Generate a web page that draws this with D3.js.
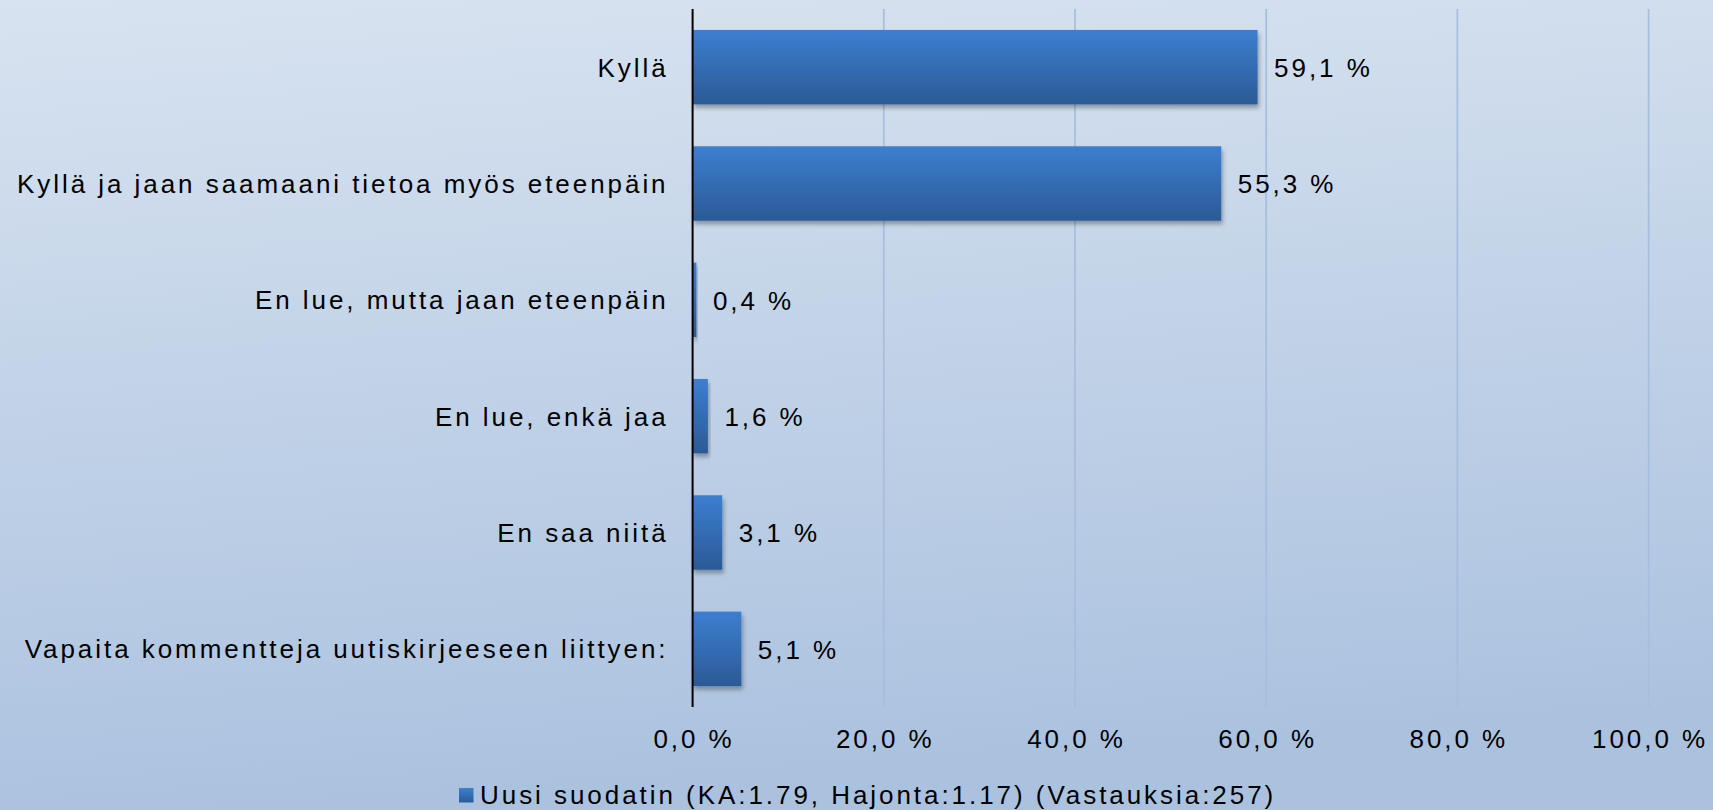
<!DOCTYPE html>
<html>
<head>
<meta charset="utf-8">
<script src="https://cdn.jsdelivr.net/npm/d3@7/dist/d3.min.js"></script>
<style>
  body { margin: 0; overflow: hidden; }
  text { font-family: "Liberation Sans", Arial, sans-serif; fill: #000; }
</style>
</head>
<body>
<div id="chart"></div>
<script>
// data
const categories = [
  "Kyllä",
  "Kyllä ja jaan saamaani tietoa myös eteenpäin",
  "En lue, mutta jaan eteenpäin",
  "En lue, enkä jaa",
  "En saa niitä",
  "Vapaita kommentteja uutiskirjeeseen liittyen:"
]
const values = [59.1, 55.3, 0.4, 1.6, 3.1, 5.1]
const tickValues = [0, 20, 40, 60, 80, 100]
const seriesName = "Uusi suodatin (KA:1.79, Hajonta:1.17) (Vastauksia:257)"

const W = 1713, H = 810
const plot = {left: 692.6, right: 1648.6, top: 9, bottom: 707}
const fontSize = 26, ls = 2.95

const pct = v => d3.format(".1f")(v).replace(".", ",") + " %"

const svg = d3.select('#chart')
  .append('svg')
  .attr('width', W)
  .attr('height', H)

const defs = svg.append('defs')

const bg = defs.append('linearGradient')
  .attr('id', 'bg').attr('x1', 0).attr('y1', 0).attr('x2', 0.15).attr('y2', 1)
bg.append('stop').attr('offset', 0).attr('stop-color', '#d8e3f0')
bg.append('stop').attr('offset', 1).attr('stop-color', '#abc2df')

const barGrad = defs.append('linearGradient')
  .attr('id', 'barGrad').attr('x1', 0).attr('y1', 0).attr('x2', 0).attr('y2', 1)
barGrad.append('stop').attr('offset', 0).attr('stop-color', '#3c7fd0')
barGrad.append('stop').attr('offset', 1).attr('stop-color', '#2b5a96')

const shadow = defs.append('filter')
  .attr('id', 'shadow').attr('x', '-10%').attr('y', '-10%').attr('width', '130%').attr('height', '140%')
shadow.append('feDropShadow')
  .attr('dx', 1.5).attr('dy', 3.5).attr('stdDeviation', 2.2)
  .attr('flood-color', '#000').attr('flood-opacity', 0.32)

svg.append('rect')
  .attr('width', W).attr('height', H)
  .attr('fill', 'url(#bg)')

const x = d3.scaleLinear()
  .domain([0, 100])
  .range([plot.left, plot.right])

const y = d3.scaleBand()
  .domain(categories)
  .range([plot.top, plot.bottom])
  .paddingInner(0.36)
  .paddingOuter(0.18)

// gridlines
svg.append('g')
  .selectAll('line')
  .data(tickValues.filter(t => t > 0))
  .enter()
  .append('line')
  .attr('x1', d => x(d)).attr('x2', d => x(d))
  .attr('y1', plot.top).attr('y2', plot.bottom)
  .attr('stroke', '#a6bedd')
  .attr('stroke-width', 1.7)

// bars
svg.append('g')
  .selectAll('.bars')
  .data(values)
  .enter()
  .append('rect')
  .attr('class', 'bars')
  .attr('x', x(0))
  .attr('y', (d, i) => y(categories[i]))
  .attr('width', d => x(d) - x(0))
  .attr('height', y.bandwidth())
  .attr('fill', 'url(#barGrad)')
  .attr('filter', 'url(#shadow)')

// value labels
svg.append('g')
  .selectAll('text')
  .data(values)
  .enter()
  .append('text')
  .attr('x', d => x(d) + 16.5)
  .attr('y', (d, i) => y(categories[i]) + y.bandwidth() / 2)
  .attr('dy', '0.38em')
  .style('font-size', fontSize + 'px')
  .style('letter-spacing', ls + 'px')
  .text(d => pct(d))

// category labels
svg.append('g')
  .selectAll('text')
  .data(categories)
  .enter()
  .append('text')
  .attr('x', plot.left - 27 + ls)
  .attr('y', d => y(d) + y.bandwidth() / 2)
  .attr('dy', '0.36em')
  .attr('text-anchor', 'end')
  .style('font-size', fontSize + 'px')
  .style('letter-spacing', ls + 'px')
  .text(d => d)

// vertical axis line
svg.append('line')
  .attr('x1', x(0)).attr('x2', x(0))
  .attr('y1', plot.top).attr('y2', plot.bottom)
  .attr('stroke', '#000')
  .attr('stroke-width', 2)

// x tick labels
svg.append('g')
  .selectAll('text')
  .data(tickValues)
  .enter()
  .append('text')
  .attr('x', d => x(d) + ls / 2)
  .attr('y', 748)
  .attr('text-anchor', 'middle')
  .style('font-size', fontSize + 'px')
  .style('letter-spacing', ls + 'px')
  .text(d => pct(d))

// legend
const legend = svg.append('g').attr('transform', 'translate(459,788)')
legend.append('rect')
  .attr('width', 14.5).attr('height', 14.5)
  .attr('fill', 'url(#barGrad)')
legend.append('text')
  .attr('x', 21)
  .attr('y', 15.5)
  .style('font-size', fontSize + 'px')
  .style('letter-spacing', ls + 'px')
  .text(seriesName)
</script>
</body>
</html>
